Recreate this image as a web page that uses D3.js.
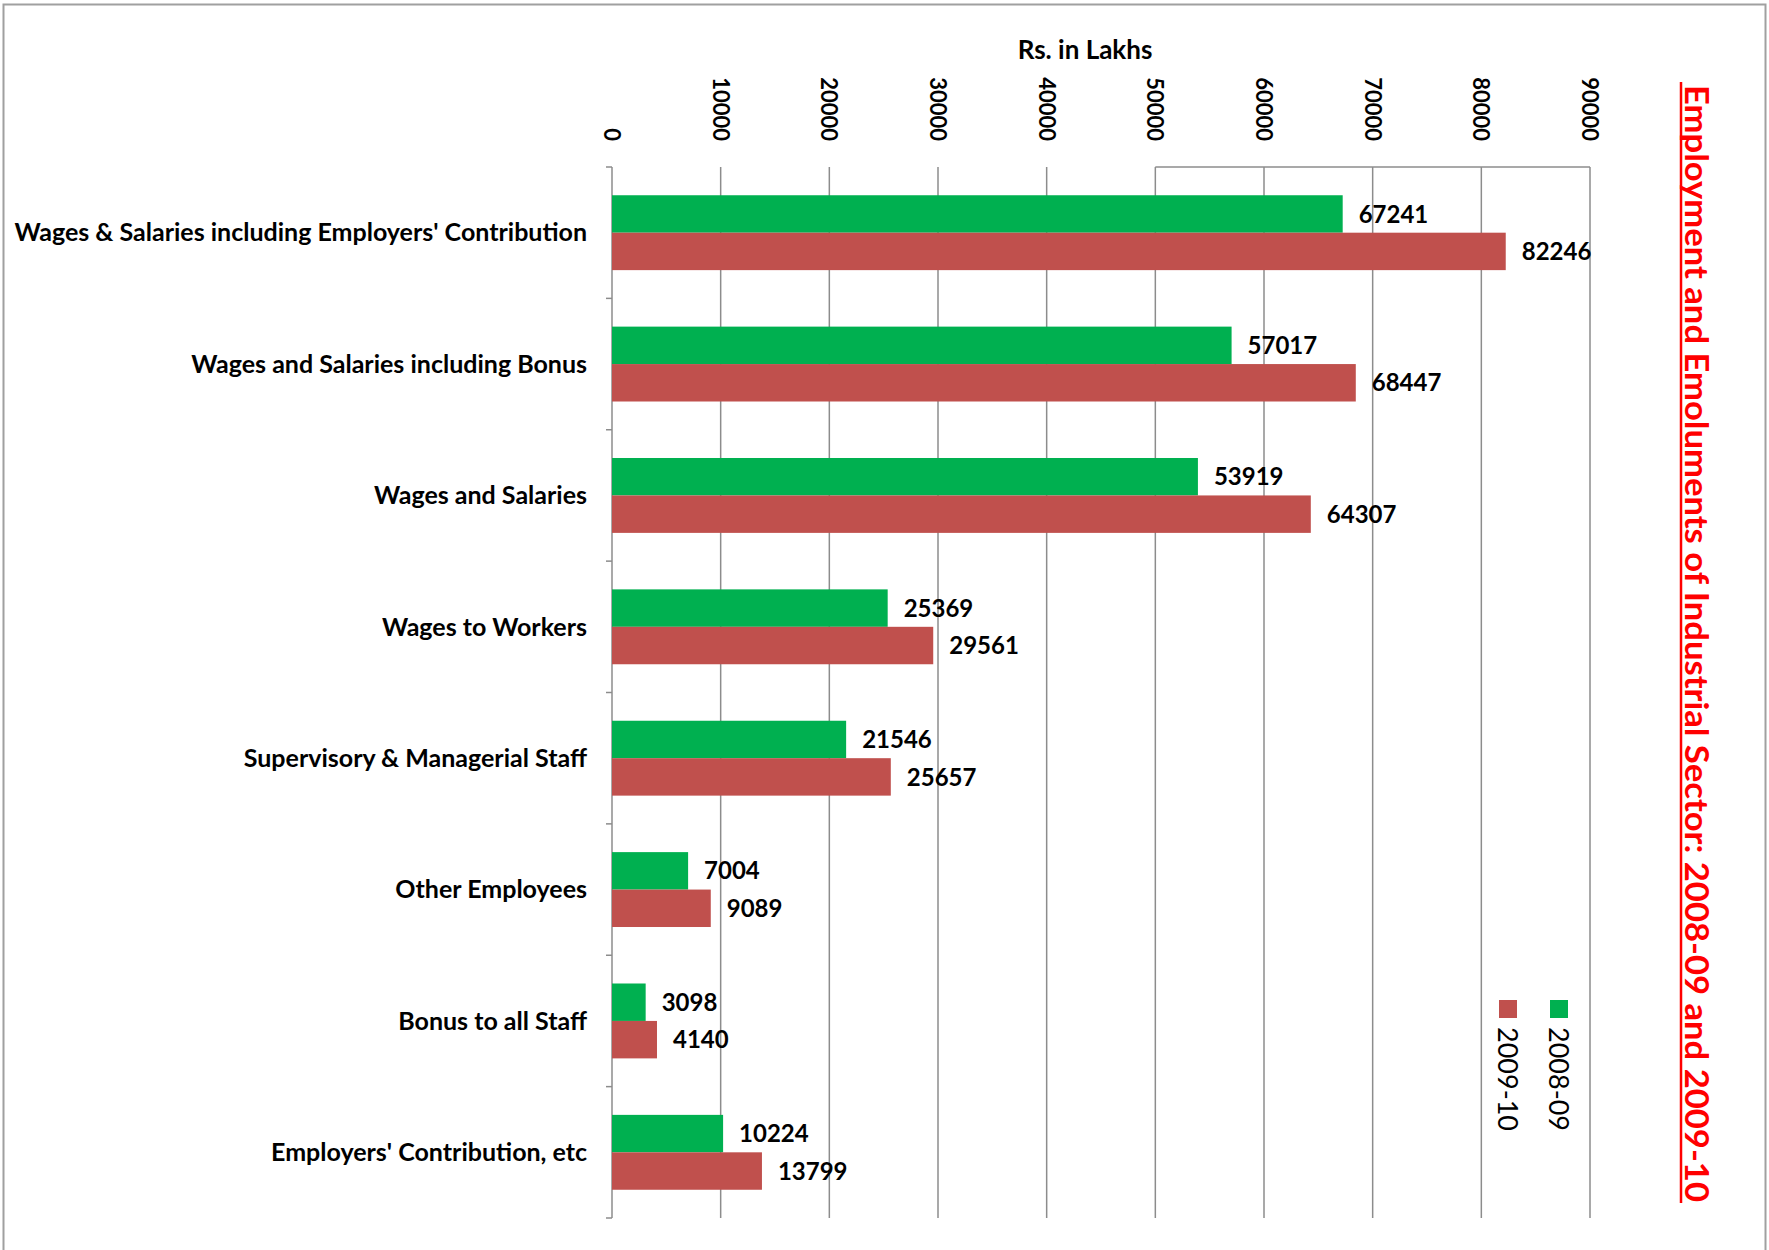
<!DOCTYPE html>
<html>
<head>
<meta charset="utf-8">
<script src="https://cdn.jsdelivr.net/npm/d3@7"></script>
<style>
    body { margin: 0; background: #fff; }
    svg { display: block; }
    text { font-family: Lato, "Open Sans", sans-serif; }
</style>
</head>
<body>
<div id="chart"></div>
<script>
// chart data
const categories = [
    "Wages & Salaries including Employers' Contribution",
    "Wages and Salaries including Bonus",
    "Wages and Salaries",
    "Wages to Workers",
    "Supervisory & Managerial Staff",
    "Other Employees",
    "Bonus to all Staff",
    "Employers' Contribution, etc"
];
const seriesNames = ["2008-09", "2009-10"];
const values0809 = [67241, 57017, 53919, 25369, 21546, 7004, 3098, 10224];
const values0910 = [82246, 68447, 64307, 29561, 25657, 9089, 4140, 13799];
const seriesColors = ["#00b050", "#c0504d"];
const xTicks = [0, 10000, 20000, 30000, 40000, 50000, 60000, 70000, 80000, 90000];
const axisTitle = "Rs. in Lakhs";
const chartTitle = "Employment and Emoluments of Industrial Sector: 2008-09 and 2009-10";

const width = 1769, height = 1250;
const plot = {left: 612, right: 1590, top: 167, bottom: 1218};

let svg = d3.select("#chart").append("svg")
    .attr("width", width)
    .attr("height", height);

// outer frame
svg.append("rect")
    .attr("x", 3.5).attr("y", 4.5)
    .attr("width", 1762).attr("height", 1260)
    .attr("fill", "none")
    .attr("stroke", "#a0a0a0")
    .attr("stroke-width", 2);

let x = d3.scaleLinear()
    .domain([0, 90000])
    .range([plot.left, plot.right]);

let y0 = d3.scaleBand()
    .domain(categories)
    .range([plot.top, plot.bottom])
    .paddingInner(0.43)
    .paddingOuter(0.215);

let y1 = d3.scaleBand()
    .domain(seriesNames)
    .range([0, y0.bandwidth()]);

// gridlines
svg.append("g").selectAll("line")
    .data(xTicks.slice(1))
    .enter().append("line")
    .attr("x1", d => x(d)).attr("x2", d => x(d))
    .attr("y1", plot.top).attr("y2", plot.bottom)
    .attr("stroke", "#8c8c8c")
    .attr("stroke-width", 1.5);

// stray top border segment
svg.append("line")
    .attr("x1", x(50000)).attr("x2", x(90000))
    .attr("y1", plot.top).attr("y2", plot.top)
    .attr("stroke", "#8c8c8c")
    .attr("stroke-width", 1.5);

// value axis labels (rotated)
svg.append("g").selectAll("text")
    .data(xTicks)
    .enter().append("text")
    .attr("transform", d => `translate(${x(d)}, 141) rotate(90)`)
    .attr("text-anchor", "end")
    .attr("dy", "0.36em")
    .style("font-size", "22px")
    .style("font-weight", "bold")
    .style("fill", "#000")
    .text(d => d);

svg.append("text")
    .attr("x", 1085).attr("y", 59)
    .attr("text-anchor", "middle")
    .style("font-size", "26px")
    .style("font-weight", "bold")
    .text(axisTitle);

// category axis
let yAxis = svg.append("g")
    .attr("transform", `translate(${plot.left},0)`);
yAxis.append("line")
    .attr("x1", 0).attr("x2", 0)
    .attr("y1", plot.top).attr("y2", plot.bottom)
    .attr("stroke", "#8c8c8c")
    .attr("stroke-width", 1.5);
let step = y0.step();
yAxis.selectAll(".tick")
    .data(d3.range(categories.length + 1))
    .enter().append("line")
    .attr("class", "tick")
    .attr("x1", -6).attr("x2", 0)
    .attr("y1", i => plot.top + i * step).attr("y2", i => plot.top + i * step)
    .attr("stroke", "#8c8c8c")
    .attr("stroke-width", 1.5);

yAxis.selectAll(".catLabel")
    .data(categories)
    .enter().append("text")
    .attr("class", "catLabel")
    .attr("x", -25)
    .attr("y", d => y0(d) + y0.bandwidth() / 2)
    .attr("dy", "0.35em")
    .attr("text-anchor", "end")
    .style("font-size", "25px")
    .style("font-weight", "bold")
    .text(d => d);

// bars
let rows = categories.map((c, i) => ({
    category: c,
    values: [
        {series: seriesNames[0], value: values0809[i]},
        {series: seriesNames[1], value: values0910[i]}
    ]
}));

let slice = svg.append("g").selectAll(".slice")
    .data(rows)
    .enter().append("g")
    .attr("class", "slice")
    .attr("transform", d => `translate(0,${y0(d.category)})`);

slice.selectAll("rect")
    .data(d => d.values)
    .enter().append("rect")
    .attr("x", x(0))
    .attr("y", d => y1(d.series))
    .attr("width", d => x(d.value) - x(0))
    .attr("height", y1.bandwidth())
    .style("fill", (d, i) => seriesColors[i]);

slice.selectAll(".valLabel")
    .data(d => d.values)
    .enter().append("text")
    .attr("class", "valLabel")
    .attr("x", d => x(d.value) + 16)
    .attr("y", d => y1(d.series) + y1.bandwidth() / 2)
    .attr("dy", "0.36em")
    .style("font-size", "24px")
    .style("font-weight", "bold")
    .text(d => d.value);

// legend (rotated)
let legend = svg.append("g").selectAll(".legend")
    .data(seriesNames)
    .enter().append("g")
    .attr("class", "legend")
    .attr("transform", (d, i) => `translate(${1559 - i * 51}, 1000)`);
legend.append("rect")
    .attr("x", -9).attr("y", 0)
    .attr("width", 18).attr("height", 18)
    .style("fill", (d, i) => seriesColors[i]);
legend.append("text")
    .attr("transform", "translate(0, 27) rotate(90)")
    .attr("dy", "0.36em")
    .style("font-size", "27px")
    .text(d => d);

// title (rotated, underlined)
svg.append("text")
    .attr("transform", "translate(1685, 85) rotate(90)")
    .attr("textLength", 1117)
    .attr("lengthAdjust", "spacingAndGlyphs")
    .style("font-size", "33px")
    .style("font-weight", "bold")
    .style("fill", "#ff0000")
    .text(chartTitle);
svg.append("line")
    .attr("x1", 1681).attr("x2", 1681)
    .attr("y1", 82).attr("y2", 1203)
    .attr("stroke", "#ff0000")
    .attr("stroke-width", 2.5);
</script>
</body>
</html>
